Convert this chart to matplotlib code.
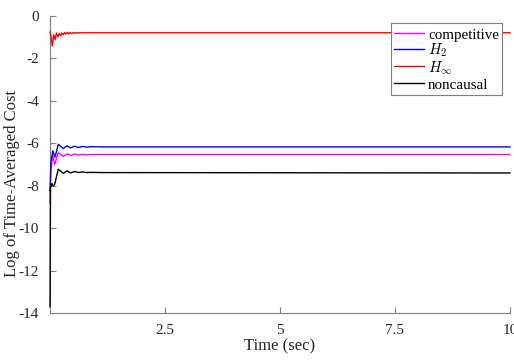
import matplotlib
matplotlib.use("Agg")
import matplotlib.pyplot as plt
from matplotlib.ticker import FixedLocator, FuncFormatter

plt.rcParams['font.family'] = ['Liberation Serif', 'DejaVu Serif']
plt.rcParams['mathtext.fontset'] = 'cm'

# ---- data ----
labels = ['competitive', '$H_2$', '$H_\\infty$', 'noncausal']
colors = ['#ff00ff', '#0000ff', '#ff0000', '#000000']

red_t = [0.0, 0.02, 0.05, 0.08, 0.11, 0.14, 0.17, 0.20, 0.23, 0.26, 0.29, 0.32,
         0.35, 0.38, 0.41, 0.44, 0.47, 0.50, 0.53, 0.56, 0.59, 0.62, 0.65, 0.68,
         0.71, 0.74, 0.80, 1.0, 10.0]
red_v = [-0.75, -0.95, -1.42, -0.88, -1.12, -0.80, -0.98, -0.82, -0.93, -0.80,
         -0.89, -0.78, -0.86, -0.77, -0.84, -0.78, -0.83, -0.78, -0.82, -0.78,
         -0.81, -0.78, -0.80, -0.78, -0.80, -0.79, -0.79, -0.79, -0.79]

blue_t = [0.0, 0.02, 0.06, 0.11, 0.18, 0.29, 0.37, 0.45, 0.53, 0.62, 0.70,
          0.80, 0.90, 1.1, 10.0]
blue_v = [-8.25, -6.9, -6.35, -6.65, -6.05, -6.25, -6.12, -6.22, -6.14, -6.20,
          -6.15, -6.18, -6.16, -6.17, -6.17]

mag_t = [0.0, 0.02, 0.06, 0.10, 0.18, 0.29, 0.37, 0.45, 0.53, 0.62, 0.70,
         0.80, 0.90, 1.1, 10.0]
mag_v = [-8.8, -7.2, -6.55, -7.0, -6.45, -6.62, -6.50, -6.58, -6.51, -6.56,
         -6.52, -6.55, -6.53, -6.53, -6.53]

blk_t = [0.0, 0.01, 0.04, 0.07, 0.10, 0.18, 0.29, 0.37, 0.45, 0.53, 0.62,
         0.70, 0.80, 0.90, 1.1, 10.0]
blk_v = [-13.7, -8.1, -7.9, -8.0, -7.95, -7.22, -7.42, -7.30, -7.40, -7.33,
         -7.38, -7.35, -7.38, -7.37, -7.38, -7.40]

series_t = [mag_t, blue_t, red_t, blk_t]
series_v = [mag_v, blue_v, red_v, blk_v]

yticks = [0, -2, -4, -6, -8, -10, -12, -14]
xticks = [2.5, 5, 7.5, 10]

fig = plt.figure(figsize=(5.14, 3.60), dpi=100)
ax = fig.add_axes([50/514, 47/360, 460/514, 297/360])

for t, v, c, lab in zip(series_t, series_v, colors, labels):
    ax.plot(t, v, color=c, lw=1.0, label=lab, zorder=3, clip_on=False)

ax.set_xlim(0, 10)
ax.set_ylim(-14, 0)
ax.xaxis.set_major_locator(FixedLocator(xticks))
ax.yaxis.set_major_locator(FixedLocator(yticks))
ax.xaxis.set_major_formatter(FuncFormatter(lambda v, p: ('%g' % v)))
ax.yaxis.set_major_formatter(FuncFormatter(lambda v, p: ('%g' % v).replace('\u2212', '-')))

for s in ['top', 'right']:
    ax.spines[s].set_visible(False)
for s in ['left', 'bottom']:
    ax.spines[s].set_color('#7f7f7f')
    ax.spines[s].set_linewidth(0.8)
ax.tick_params(direction='in', length=4, width=0.8, color='#7f7f7f',
               labelsize=11, labelcolor='#262626')
ax.tick_params(axis='y', pad=8)
ax.tick_params(axis='x', pad=8)

ax.set_xlabel('Time (sec)', fontsize=12, color='#262626')
ax.set_ylabel('Log of Time-Averaged Cost', fontsize=12, color='#262626')
ax.xaxis.set_label_coords(0.5, -0.085)
ax.yaxis.set_label_coords(-0.066, 0.4377)

leg = ax.legend(loc='upper right', bbox_to_anchor=(0.983, 0.975), fontsize=10.8,
                frameon=True, fancybox=False, edgecolor='#7f7f7f',
                framealpha=1, handlelength=2.0, handletextpad=0.25,
                handleheight=1.1, borderpad=0.2, labelspacing=0.0,
                borderaxespad=0)
leg.get_frame().set_linewidth(0.8)
leg.set_zorder(5)

fig.savefig('out.png', dpi=100)
